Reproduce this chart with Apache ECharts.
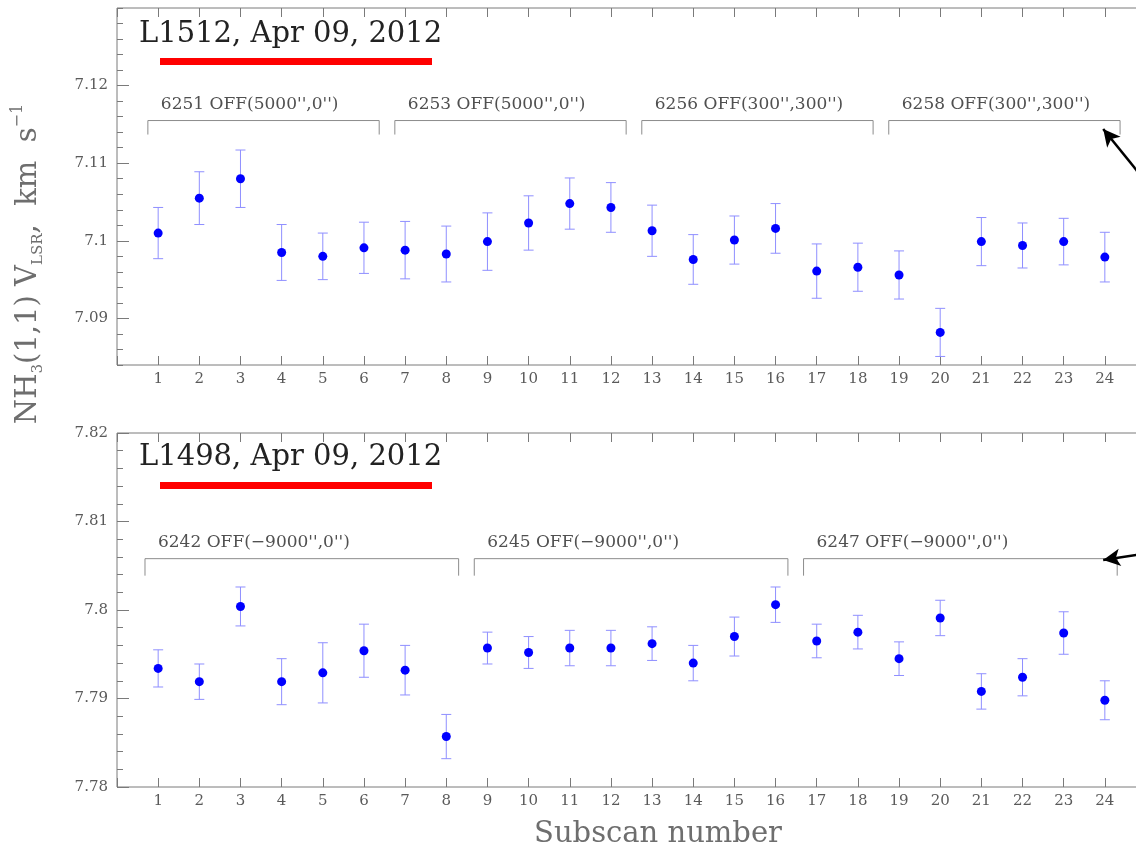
<!DOCTYPE html>
<html>
<head>
<meta charset="utf-8">
<script src="https://cdn.jsdelivr.net/npm/echarts@6/dist/echarts.min.js"></script>
<style>
  html, body { margin: 0; padding: 0; background: #ffffff; }
  #chart { width: 1136px; height: 848px; }
</style>
</head>
<body>
<div id="chart"></div>
<script>
// Subscan numbers shared by both sources
const subscans = [1, 2, 3, 4, 5, 6, 7, 8, 9, 10, 11, 12, 13, 14, 15, 16, 17, 18, 19, 20, 21, 22, 23, 24];

// L1512: NH3(1,1) LSR velocity per subscan and its 1-sigma error (km/s)
const l1512Vlsr = [7.1010, 7.1055, 7.1080, 7.0985, 7.0980, 7.0991, 7.0988, 7.0983, 7.0999, 7.1023, 7.1048, 7.1043,
                   7.1013, 7.0976, 7.1001, 7.1016, 7.0961, 7.0966, 7.0956, 7.0882, 7.0999, 7.0994, 7.0999, 7.0979];
const l1512Err  = [0.0033, 0.0034, 0.0037, 0.0036, 0.0030, 0.0033, 0.0037, 0.0036, 0.0037, 0.0035, 0.0033, 0.0032,
                   0.0033, 0.0032, 0.0031, 0.0032, 0.0035, 0.0031, 0.0031, 0.0031, 0.0031, 0.0029, 0.0030, 0.0032];

// L1498: NH3(1,1) LSR velocity per subscan and its 1-sigma error (km/s)
const l1498Vlsr = [7.7934, 7.7919, 7.8004, 7.7919, 7.7929, 7.7954, 7.7932, 7.7857, 7.7957, 7.7952, 7.7957, 7.7957,
                   7.7962, 7.7940, 7.7970, 7.8006, 7.7965, 7.7975, 7.7945, 7.7991, 7.7908, 7.7924, 7.7974, 7.7898];
const l1498Err  = [0.0021, 0.0020, 0.0022, 0.0026, 0.0034, 0.0030, 0.0028, 0.0025, 0.0018, 0.0018, 0.0020, 0.0020,
                   0.0019, 0.0020, 0.0022, 0.0020, 0.0019, 0.0019, 0.0019, 0.0020, 0.0020, 0.0021, 0.0024, 0.0022];

// Scan groups (scan id, OFF position, first and last subscan)
const l1512Scans   = ['6251', '6253', '6256', '6258'];
const l1512Offs    = ["OFF(5000'',0'')", "OFF(5000'',0'')", "OFF(300'',300'')", "OFF(300'',300'')"];
const l1512First   = [1, 7, 13, 19];
const l1512Last    = [6, 12, 18, 24];

const l1498Scans   = ['6242', '6245', '6247'];
const l1498Offs    = ["OFF(\u22129000'',0'')", "OFF(\u22129000'',0'')", "OFF(\u22129000'',0'')"];
const l1498First   = [1, 9, 17];
const l1498Last    = [8, 16, 24];

// Axis ranges and labelled ticks
const l1512Range = [7.084, 7.13];
const l1498Range = [7.78, 7.82];
const l1512YTicks = [7.09, 7.1, 7.11, 7.12];
const l1498YTicks = [7.78, 7.79, 7.8, 7.81, 7.82];

const FRAME = '#7a7a7a';
const LABEL = '#5a5a5a';
const ERR_COLOR = '#8f8fff';
const DOT_COLOR = '#0000ff';
const SERIF = '"DejaVu Serif", serif';

const chart = echarts.init(document.getElementById('chart'), null, { renderer: 'canvas' });

function fmtY(v) { return String(parseFloat(v.toFixed(3))); }

function xAxes(gridIndex) {
  const common = {
    type: 'value', gridIndex: gridIndex, min: 0, max: 25, interval: 1,
    axisLine: { show: false }, splitLine: { show: false },
    axisTick: { inside: true, length: 9, lineStyle: { color: FRAME, width: 1 } }
  };
  return [
    Object.assign({}, common, {
      position: 'bottom',
      axisLabel: {
        margin: 7, color: LABEL, fontFamily: SERIF, fontSize: 15,
        formatter: v => (v >= 1 && v <= 24) ? String(v) : ''
      }
    }),
    Object.assign({}, common, { position: 'top', axisLabel: { show: false } })
  ];
}

function yAxes(gridIndex, range, majors) {
  return [
    { // minor ticks every 0.002 with labels at the majors
      type: 'value', gridIndex: gridIndex, position: 'left', min: range[0], max: range[1], interval: 0.002,
      axisLine: { show: false }, splitLine: { show: false },
      axisTick: { inside: true, length: 6, lineStyle: { color: FRAME, width: 1 } },
      axisLabel: {
        margin: 9, color: LABEL, fontFamily: SERIF, fontSize: 15,
        formatter: v => {
          const hit = majors.some(m => Math.abs(m - v) < 1e-6);
          return hit ? fmtY(v) : '';
        }
      }
    },
    { // major ticks
      type: 'value', gridIndex: gridIndex, position: 'left', min: range[0], max: range[1],
      axisLine: { show: false }, splitLine: { show: false }, axisLabel: { show: false },
      axisTick: { inside: true, length: 12, customValues: majors, lineStyle: { color: FRAME, width: 1 } }
    }
  ];
}

function errorBars(values, errs) {
  return subscans.map((s, i) => [s, values[i] - errs[i], values[i] + errs[i]]);
}

function renderError(params, api) {
  const x = api.value(0);
  const lo = api.coord([x, api.value(1)]);
  const hi = api.coord([x, api.value(2)]);
  const cap = 5;
  const style = { stroke: ERR_COLOR, lineWidth: 1, fill: null };
  return {
    type: 'group',
    children: [
      { type: 'line', shape: { x1: lo[0], y1: lo[1], x2: hi[0], y2: hi[1] }, style: style },
      { type: 'line', shape: { x1: lo[0] - cap, y1: lo[1], x2: lo[0] + cap, y2: lo[1] }, style: style },
      { type: 'line', shape: { x1: hi[0] - cap, y1: hi[1], x2: hi[0] + cap, y2: hi[1] }, style: style }
    ]
  };
}

// Bracket over a group of subscans with its scan label
function bracketRenderer(scans, offs, lineY, drop, padL, padR) {
  return function (params, api) {
    const a = api.coord([api.value(0) - padL, lineY]);
    const b = api.coord([api.value(1) + padR, lineY]);
    const i = params.dataIndex;
    return {
      type: 'group',
      children: [
        {
          type: 'polyline',
          shape: { points: [[a[0], a[1] + drop], [a[0], a[1]], [b[0], b[1]], [b[0], b[1] + drop]] },
          style: { stroke: '#8c8c8c', lineWidth: 1, fill: null }
        },
        {
          type: 'text', x: a[0] + 13, y: a[1] - 16,
          style: {
            text: scans[i] + ' ' + offs[i], fill: '#505050',
            font: '17px ' + SERIF, verticalAlign: 'middle', align: 'left'
          }
        }
      ]
    };
  };
}

const arrowStyle = {
  silent: true, symbol: ['none', 'arrow'], symbolSize: [13, 17],
  lineStyle: { color: '#000000', width: 2.5, type: 'solid' },
  label: { show: false }
};

// The frame runs past the right edge of the page
const gridCommon = {
  left: 117, right: -10, show: true, borderColor: FRAME, borderWidth: 1,
  backgroundColor: 'transparent', outerBoundsMode: 'none', containLabel: false
};

const option = {
  animation: false,
  backgroundColor: '#ffffff',
  grid: [
    Object.assign({ top: 8, height: 357 }, gridCommon),
    Object.assign({ top: 433, height: 354 }, gridCommon)
  ],
  xAxis: xAxes(0).concat(xAxes(1)),
  yAxis: yAxes(0, l1512Range, l1512YTicks).concat(yAxes(1, l1498Range, l1498YTicks)),
  series: [
    {
      type: 'custom', xAxisIndex: 0, yAxisIndex: 0, clip: false,
      data: l1512First.map((f, i) => [f, l1512Last[i]]),
      renderItem: bracketRenderer(l1512Scans, l1512Offs, 7.1155, 14, 0.25, 0.37),
      markLine: Object.assign({}, arrowStyle, {
        data: [[{ coord: [25, 7.1076] }, { coord: [23.96, 7.1144] }]]
      })
    },
    {
      type: 'custom', xAxisIndex: 2, yAxisIndex: 2, clip: false,
      data: l1498First.map((f, i) => [f, l1498Last[i]]),
      renderItem: bracketRenderer(l1498Scans, l1498Offs, 7.8058, 17, 0.32, 0.3),
      markLine: Object.assign({}, arrowStyle, {
        data: [[{ coord: [25, 7.8064] }, { coord: [23.96, 7.80565] }]]
      })
    },
    {
      type: 'custom', xAxisIndex: 0, yAxisIndex: 0, encode: { x: 0, y: [1, 2] },
      data: errorBars(l1512Vlsr, l1512Err), renderItem: renderError
    },
    {
      type: 'custom', xAxisIndex: 2, yAxisIndex: 2, encode: { x: 0, y: [1, 2] },
      data: errorBars(l1498Vlsr, l1498Err), renderItem: renderError
    },
    {
      type: 'scatter', xAxisIndex: 0, yAxisIndex: 0, symbolSize: 9,
      itemStyle: { color: DOT_COLOR, opacity: 1 },
      data: subscans.map((s, i) => [s, l1512Vlsr[i]])
    },
    {
      type: 'scatter', xAxisIndex: 2, yAxisIndex: 2, symbolSize: 9,
      itemStyle: { color: DOT_COLOR, opacity: 1 },
      data: subscans.map((s, i) => [s, l1498Vlsr[i]])
    }
  ],
  graphic: [
    { type: 'text', left: 139, top: 20, style: { text: 'L1512, Apr 09, 2012', font: '29px ' + SERIF, fill: '#222222' } },
    { type: 'rect', shape: { x: 160, y: 58, width: 272, height: 7 }, style: { fill: '#ff0000' } },
    { type: 'text', left: 139, top: 443, style: { text: 'L1498, Apr 09, 2012', font: '29px ' + SERIF, fill: '#222222' } },
    { type: 'rect', shape: { x: 160, y: 482, width: 272, height: 7 }, style: { fill: '#ff0000' } },
    {
      type: 'text', x: 658, y: 834,
      style: { text: 'Subscan number', font: '29px ' + SERIF, fill: '#6e6e6e', align: 'center', verticalAlign: 'middle' }
    },
    {
      type: 'text', x: 28, y: 264, rotation: Math.PI / 2,
      style: {
        text: '{m|NH}{s|3}{m|(1,1) V}{s|LSR}{m|,  km  s}{u|\u22121}',
        align: 'center', verticalAlign: 'middle', fill: '#6e6e6e',
        rich: {
          m: { font: '29px ' + SERIF, fill: '#6e6e6e', lineHeight: 36 },
          s: { font: '15px ' + SERIF, fill: '#6e6e6e', lineHeight: 15, verticalAlign: 'bottom' },
          u: { font: '16px ' + SERIF, fill: '#6e6e6e', lineHeight: 16, verticalAlign: 'top' }
        }
      }
    }
  ]
};

chart.setOption(option);
</script>
</body>
</html>
